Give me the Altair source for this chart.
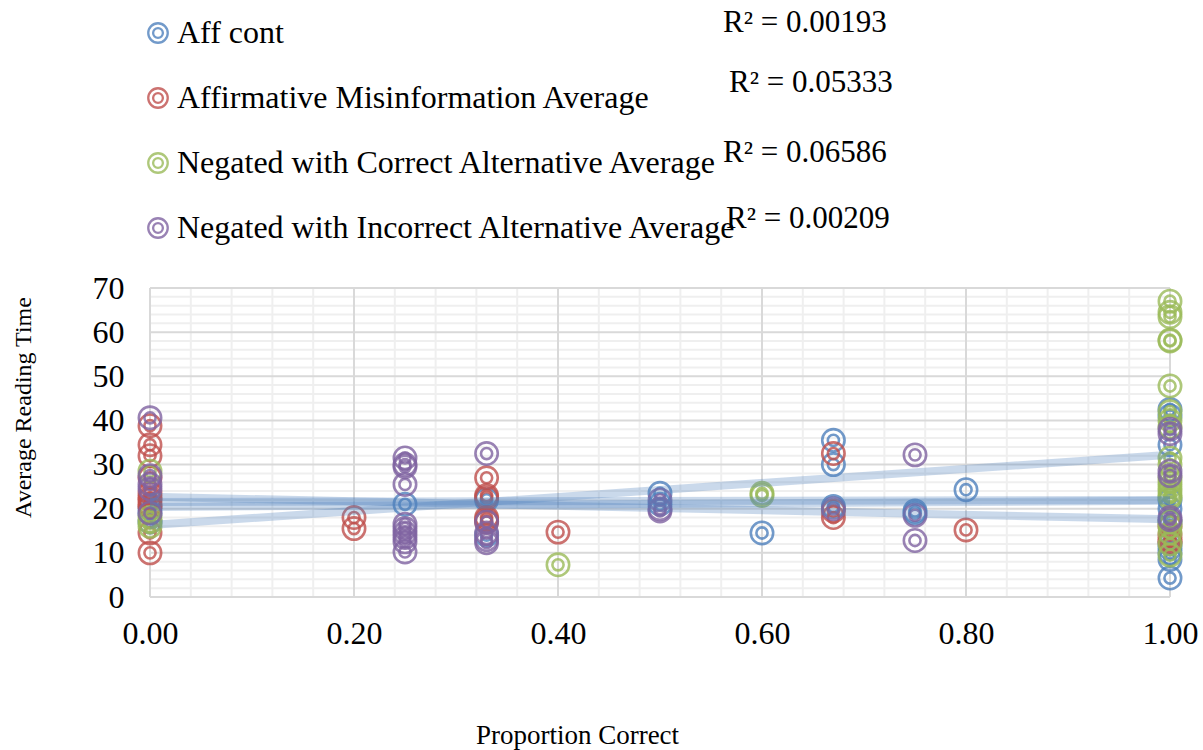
import altair as alt
import pandas as pd

# ---------------- data ----------------
series_names = [
    "Aff cont",
    "Affirmative Misinformation Average",
    "Negated with Correct Alternative Average",
    "Negated with Incorrect Alternative Average",
]
series_colors = ["#4F81BD", "#C0504D", "#9BBB59", "#8064A2"]

aff_cont_x = [0, 0, 0, 0.25, 0.33, 0.33, 0.5, 0.5, 0.6, 0.67, 0.67, 0.67, 0.75, 0.75, 0.8,
              1, 1, 1, 1, 1, 1, 1, 1, 1, 1, 1]
aff_cont_y = [20, 17, 19, 21, 22, 14, 23.5, 21, 14.5, 35.5, 30, 20.5, 19.5, 19, 24.3,
              42.5, 41, 34.5, 22, 20, 17, 12, 11, 10, 8.5, 4.3]

aff_mis_x = [0, 0, 0, 0, 0, 0, 0, 0, 0, 0, 0, 0.2, 0.2, 0.33, 0.33, 0.33, 0.33, 0.33, 0.33,
             0.4, 0.67, 0.67, 0.67, 0.8, 1, 1, 1, 1]
aff_mis_y = [38.8, 34.5, 32, 27, 23.5, 22.5, 22, 21, 20.5, 14.5, 10, 18, 15.5, 27, 23, 22.5, 18, 17.5, 17,
             14.7, 32.5, 19.5, 18, 15.2, 16, 14, 13, 12.5]

neg_cor_x = [0, 0, 0, 0, 0.4, 0.6, 0.6,
             1, 1, 1, 1, 1, 1, 1, 1, 1, 1, 1, 1, 1, 1, 1, 1, 1, 1, 1, 1, 1, 1]
neg_cor_y = [28.5, 18, 17, 16, 7.3, 23.5, 23,
             67, 64.5, 63.5, 58.2, 58, 47.8, 42, 40, 38.5, 31.5, 30, 27, 26, 25, 24, 23, 22.5,
             17, 16, 14.5, 12, 9.5]

neg_inc_x = [0, 0, 0, 0, 0, 0.25, 0.25, 0.25, 0.25, 0.25, 0.25, 0.25, 0.25, 0.25, 0.25,
             0.33, 0.33, 0.33, 0.33, 0.33, 0.5, 0.5, 0.5, 0.67, 0.75, 0.75, 0.75,
             1, 1, 1, 1, 1, 1]
neg_inc_y = [40.6, 25.5, 24.5, 19, 27.5, 31.5, 30, 29.5, 25.5, 16.5, 15.5, 14.5, 13.5, 12.5, 10.2,
             32.5, 17, 14.5, 13, 12.3, 22, 20, 19.5, 20, 32.2, 18.5, 12.8,
             38, 37, 28.5, 27.5, 18, 17.5]

# linear trendline values at x = 0 and x = 1
trend_start = [20.4, 22.7, 16.3, 21.5]
trend_end = [21.8, 17.6, 32.2, 22.0]
r2_labels = ["R² = 0.00193", "R² = 0.05333", "R² = 0.06586", "R² = 0.00209"]

x_ticks = [0, 0.2, 0.4, 0.6, 0.8, 1.0]
x_minor = [0.04, 0.08, 0.12, 0.16, 0.24, 0.28, 0.32, 0.36, 0.44, 0.48, 0.52, 0.56,
           0.64, 0.68, 0.72, 0.76, 0.84, 0.88, 0.92, 0.96]
y_ticks = [0, 10, 20, 30, 40, 50, 60, 70]
y_minor = [2, 4, 6, 8, 12, 14, 16, 18, 22, 24, 26, 28, 32, 34, 36, 38,
           42, 44, 46, 48, 52, 54, 56, 58, 62, 64, 66, 68]

# ---------------- tables ----------------
frames = []
for name, xs, ys in zip(series_names,
                        [aff_cont_x, aff_mis_x, neg_cor_x, neg_inc_x],
                        [aff_cont_y, aff_mis_y, neg_cor_y, neg_inc_y]):
    frames.append(pd.DataFrame({"series": name, "x": xs, "y": ys}))
points_df = pd.concat(frames, ignore_index=True)

trend_rows = []
for name, a, b in zip(series_names, trend_start, trend_end):
    trend_rows.append({"series": name, "x": 0.0, "y": a})
    trend_rows.append({"series": name, "x": 1.0, "y": b})
trend_df = pd.DataFrame(trend_rows)

FONT = "Liberation Serif"

# double-ring marker drawn as one custom path (two circles, bezier approximated)
k = 0.5523
r2 = 0.5
kr = k * r2
RING = (
    f"M 1 0 C 1 {k} {k} 1 0 1 C {-k} 1 -1 {k} -1 0 C -1 {-k} {-k} -1 0 -1 C {k} -1 1 {-k} 1 0 Z "
    f"M {r2} 0 C {r2} {kr} {kr} {r2} 0 {r2} C {-kr} {r2} {-r2} {kr} {-r2} 0 "
    f"C {-r2} {-kr} {-kr} {-r2} 0 {-r2} C {kr} {-r2} {r2} {-kr} {r2} 0 Z"
)

x_scale = alt.Scale(domain=[0, 1], nice=False, zero=False)
y_scale = alt.Scale(domain=[0, 70], nice=False)

x_enc = alt.X(
    "x:Q", scale=x_scale,
    axis=alt.Axis(
        values=x_ticks, format=".2f", grid=False, ticks=False, domain=False,
        labelFont=FONT, labelFontSize=32, labelColor="#000000", labelPadding=21,
        labelFlush=False, labelOverlap=False,
        title="Proportion Correct", titleFont=FONT, titleFontSize=27,
        titleFontWeight="normal", titleColor="#000000", titlePadding=73,
        titleX=427, titleAlign="center",
    ),
)
y_enc = alt.Y(
    "y:Q", scale=y_scale,
    axis=alt.Axis(
        values=y_ticks, grid=False, ticks=False, domain=False,
        labelFont=FONT, labelFontSize=32, labelColor="#000000", labelPadding=26,
        labelOverlap=False,
        title="Average Reading Time", titleFont=FONT, titleFontSize=24,
        titleFontWeight="normal", titleColor="#000000",
        titleX=-127, titleY=119, titleBaseline="middle", titleAngle=270,
    ),
)

minor_x = alt.Chart(pd.DataFrame({"x": x_minor})).mark_rule(
    color="#efefef", strokeWidth=2).encode(x=x_enc)
minor_y = alt.Chart(pd.DataFrame({"y": y_minor})).mark_rule(
    color="#efefef", strokeWidth=2).encode(y=y_enc)
major_x = alt.Chart(pd.DataFrame({"x": x_ticks})).mark_rule(
    color="#d9d9d9", strokeWidth=2).encode(x=x_enc)
major_y = alt.Chart(pd.DataFrame({"y": y_ticks})).mark_rule(
    color="#d9d9d9", strokeWidth=2).encode(y=y_enc)

points = alt.Chart(points_df).mark_point(
    shape=RING, filled=False, size=500, strokeWidth=2.6, opacity=0.8
).encode(
    x=x_enc,
    y=y_enc,
    color=alt.Color(
        "series:N",
        scale=alt.Scale(domain=series_names, range=series_colors),
        sort=series_names,
        legend=alt.Legend(
            title=None, orient="none", legendX=-8, legendY=-271,
            direction="vertical", padding=0,
            symbolType=RING, symbolSize=380, symbolStrokeWidth=2.3,
            symbolFillColor="transparent", symbolOpacity=0.8,
            labelFont=FONT, labelFontSize=32, labelColor="#000000",
            labelOffset=3, rowPadding=33, labelLimit=800,
        ),
    ),
)

trend = alt.Chart(trend_df).mark_line(
    color="#4F81BD", strokeWidth=8, opacity=0.3
).encode(x=x_enc, y=y_enc, detail="series:N")

r2_layers = []
for lab, px, py in zip(r2_labels, [573, 579, 573, 576], [-265, -205, -135, -69]):
    r2_layers.append(
        alt.Chart(pd.DataFrame({"t": [lab]})).mark_text(
            font=FONT, fontSize=31, color="#000000", align="left", baseline="middle"
        ).encode(x=alt.value(px), y=alt.value(py), text="t:N")
    )

chart = alt.layer(
    minor_x, minor_y, major_x, major_y, points, trend, *r2_layers
).properties(
    width=1020, height=309,
    padding={"left": 150, "top": 288, "right": 33, "bottom": 153},
    autosize=alt.AutoSizeParams(type="none"),
    background="white",
).configure_view(stroke=None)

chart.save("out.html", embed_options={"renderer": "svg", "actions": False})
